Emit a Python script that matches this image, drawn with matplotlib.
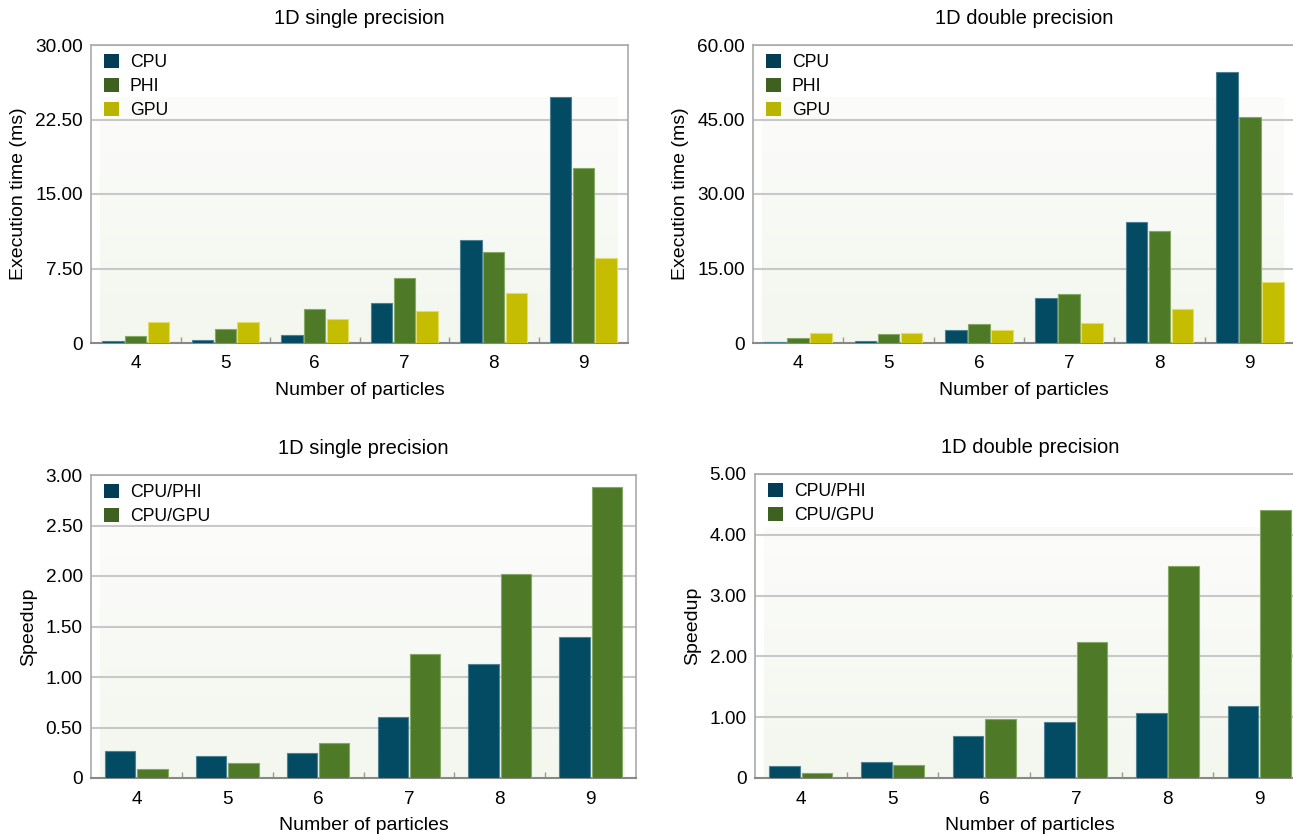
import numpy as np
import matplotlib
matplotlib.use("Agg")
import matplotlib.pyplot as plt
from matplotlib.patches import Patch
from matplotlib.colors import LinearSegmentedColormap

plt.rcParams['font.family'] = ['Liberation Sans', 'DejaVu Sans']

particles = ['4', '5', '6', '7', '8', '9']

# execution time (ms), single precision
sp_cpu = [0.17, 0.27, 0.80, 4.02, 10.39, 24.74]
sp_phi = [0.67, 1.41, 3.42, 6.54, 9.15, 17.63]
sp_gpu = [2.08, 2.11, 2.41, 3.25, 5.06, 8.55]

# execution time (ms), double precision
dp_cpu = [0.13, 0.40, 2.61, 9.05, 24.33, 54.60]
dp_phi = [0.94, 1.74, 3.82, 9.79, 22.45, 45.60]
dp_gpu = [2.08, 2.08, 2.61, 3.95, 6.84, 12.27]

# speedups
sp_cpu_phi = [0.264, 0.221, 0.244, 0.607, 1.124, 1.395]
sp_cpu_gpu = [0.089, 0.148, 0.346, 1.223, 2.018, 2.885]
dp_cpu_phi = [0.193, 0.270, 0.694, 0.914, 1.074, 1.190]
dp_cpu_gpu = [0.088, 0.220, 0.975, 2.236, 3.486, 4.416]

bar_cols = {'CPU': '#024b63', 'PHI': '#4e7a28', 'GPU': '#c5bd00'}
edge_cols = {'CPU': '#4d8196', 'PHI': '#86a865', 'GPU': '#e3dc6a'}
leg_cols = {'CPU': '#023d55', 'PHI': '#3e6020', 'GPU': '#b8b400'}

bg = LinearSegmentedColormap.from_list('bg', ['#f3f7ee', '#fcfcfb'])

W, H = 1293, 835
fig = plt.figure(figsize=(W / 100, H / 100), dpi=100)


def px_axes(left, top, width, height):
    return fig.add_axes([left / W, 1 - (top + height) / H, width / W, height / H])


def draw_panel(ax, series, names, width, ymax, yticks, ylabels, title, ylabel):
    x = np.arange(len(particles))
    ax.set_xlim(-0.5, len(particles) - 0.5)
    ax.set_ylim(0, ymax)
    grad = np.linspace(0, 1, 256).reshape(-1, 1)
    ax.imshow(grad, cmap=bg, origin='lower', aspect='auto',
              extent=[0.017, 0.98, 0, 0.825], transform=ax.transAxes, zorder=0)
    n = len(series)
    for i, (vals, nm) in enumerate(zip(series, names)):
        off = (i - (n - 1) / 2) * width
        ax.bar(x + off, vals, width * 0.94, color=bar_cols[nm],
               edgecolor=edge_cols[nm], linewidth=0.8, zorder=3)
    for t in yticks[1:]:
        ax.axhline(t, color='#c8c8c8', lw=1.5, zorder=2)
    ax.set_yticks(yticks)
    ax.set_yticklabels(ylabels, fontsize=13.7)
    ax.set_xticks(x)
    ax.set_xticklabels(particles, fontsize=13.7)
    ax.set_xticks(np.arange(0.5, len(particles) - 1, 1), minor=True)
    ax.tick_params(axis='both', which='major', length=0, pad=6)
    ax.tick_params(axis='x', which='major', pad=9)
    ax.tick_params(axis='x', which='minor', direction='in', length=4,
                   color='#999999', width=1)
    for s in ax.spines.values():
        s.set_color('#aaaaaa')
        s.set_linewidth(1.2)
    ax.spines['bottom'].set_color('#888888')
    ax.spines['bottom'].set_linewidth(1.5)
    ax.set_title(title, fontsize=14.5, pad=15)
    ax.set_xlabel('Number of particles', fontsize=14, labelpad=7)
    ax.set_ylabel(ylabel, fontsize=14, labelpad=6)


def add_legend(ax, names, labels):
    handles = [Patch(facecolor=leg_cols[nm], edgecolor='none') for nm in names]
    ax.legend(handles, labels, loc='upper left', frameon=False, fontsize=12.7,
              handlelength=0.85, handleheight=0.85, handletextpad=0.6,
              labelspacing=0.4, borderaxespad=0.1, bbox_to_anchor=(0.008, 1.0))


# top left
ax1 = px_axes(91, 45, 537, 298)
draw_panel(ax1, [sp_cpu, sp_phi, sp_gpu], ['CPU', 'PHI', 'GPU'], 0.255, 30,
           [0, 7.5, 15, 22.5, 30], ['0', '7.50', '15.00', '22.50', '30.00'],
           '1D single precision', 'Execution time (ms)')
add_legend(ax1, ['CPU', 'PHI', 'GPU'], ['CPU', 'PHI', 'GPU'])

# top right
ax2 = px_axes(753, 45, 542, 298)
draw_panel(ax2, [dp_cpu, dp_phi, dp_gpu], ['CPU', 'PHI', 'GPU'], 0.255, 60,
           [0, 15, 30, 45, 60], ['0', '15.00', '30.00', '45.00', '60.00'],
           '1D double precision', 'Execution time (ms)')
add_legend(ax2, ['CPU', 'PHI', 'GPU'], ['CPU', 'PHI', 'GPU'])

# bottom left
ax3 = px_axes(91, 475, 545, 303)
draw_panel(ax3, [sp_cpu_phi, sp_cpu_gpu], ['CPU', 'PHI'], 0.355, 3.0,
           [0, 0.5, 1.0, 1.5, 2.0, 2.5, 3.0],
           ['0', '0.50', '1.00', '1.50', '2.00', '2.50', '3.00'],
           '1D single precision', 'Speedup')
add_legend(ax3, ['CPU', 'PHI'], ['CPU/PHI', 'CPU/GPU'])

# bottom right
ax4 = px_axes(755, 474, 550, 304)
draw_panel(ax4, [dp_cpu_phi, dp_cpu_gpu], ['CPU', 'PHI'], 0.355, 5.0,
           [0, 1, 2, 3, 4, 5], ['0', '1.00', '2.00', '3.00', '4.00', '5.00'],
           '1D double precision', 'Speedup')
add_legend(ax4, ['CPU', 'PHI'], ['CPU/PHI', 'CPU/GPU'])

fig.savefig('out.png', dpi=100)
